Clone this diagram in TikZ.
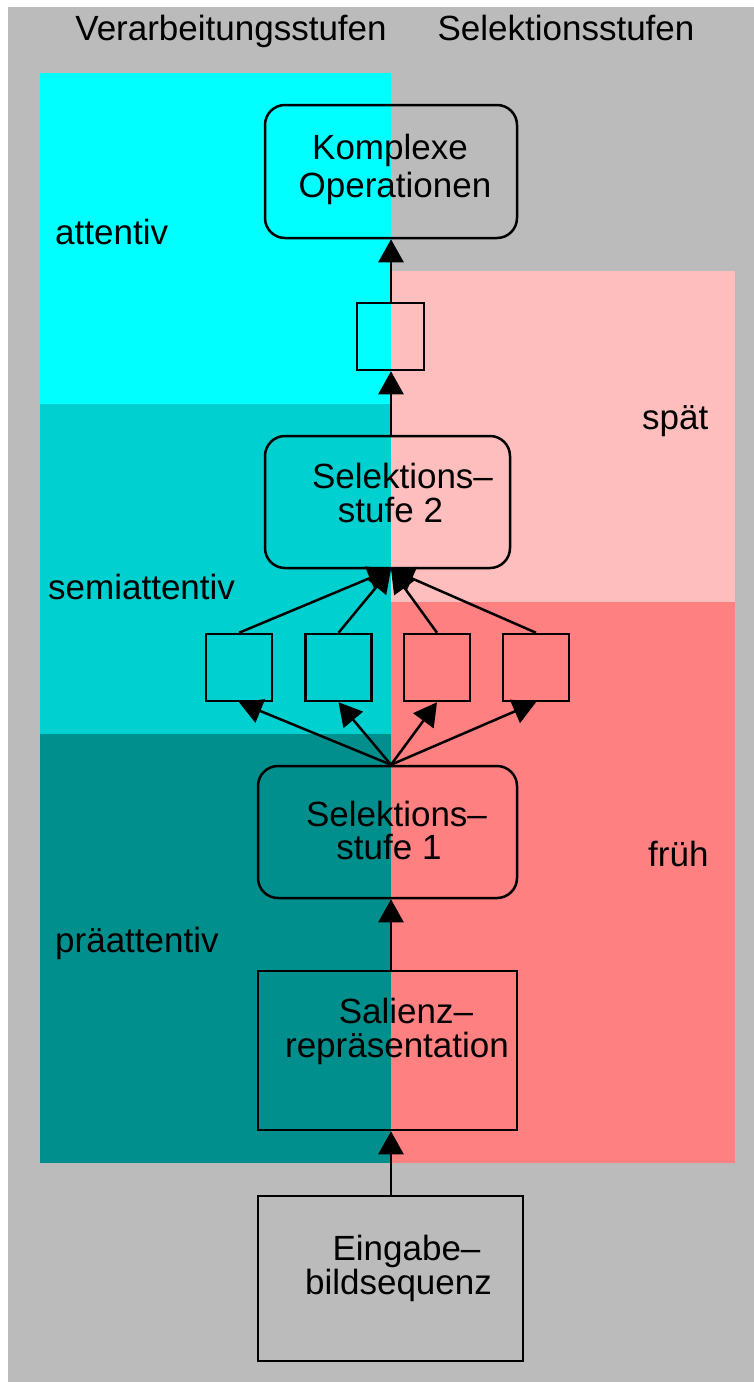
\documentclass[tikz,border=0pt]{standalone}
\usepackage{fontspec}
\setmainfont{Liberation Sans}
\usetikzlibrary{arrows.meta}
\definecolor{bg}{RGB}{187,187,187}
\definecolor{attcol}{RGB}{0,255,255}
\definecolor{semicol}{RGB}{0,208,208}
\definecolor{precol}{RGB}{0,143,140}
\definecolor{latecol}{RGB}{255,190,190}
\definecolor{earlycol}{RGB}{255,128,128}
\begin{document}
\begin{tikzpicture}[x=1pt,y=-1pt,
  txt/.style={font=\fontsize{35}{38}\selectfont, inner sep=0pt, anchor=base,
              text height=25pt, text depth=3pt},
  lbl/.style={txt, anchor=base west},
  box/.style={draw, line width=2.5pt, inner sep=0pt},
  rbox/.style={box, rounded corners=20pt},
  sq/.style={box, minimum width=66pt, minimum height=67pt},
  arr/.style={line width=2.5pt, -{Triangle[length=23pt,width=25pt]}},
  ]
% page and background
\fill[white] (0,0) rectangle (754,1382);
\fill[bg] (8,7) rectangle (754,1382);
% processing stages (left) and selection stages (right)
\fill[attcol]   (40,73)   rectangle (391,404);
\fill[semicol]  (40,404)  rectangle (391,734);
\fill[precol]   (40,734)  rectangle (391,1163);
\fill[latecol]  (391,271) rectangle (735,602);
\fill[earlycol] (391,602) rectangle (735,1163);

\coordinate (axis) at (391,0);

% headings and region labels
\node[txt] (h1) at (231,40) {Verarbeitungsstufen};
\node[txt] (h2) at (566,40) {Selektionsstufen};
\node[lbl] (l1) at (55,244) {attentiv};
\node[lbl] (l2) at (48,599) {semiattentiv};
\node[lbl] (l3) at (55,952) {präattentiv};
\node[lbl] (r1) at (642,429) {spät};
\node[lbl] (r2) at (648,866) {früh};

% boxes
\node[rbox, minimum width=252pt, minimum height=133pt] (komplex) at (391,171.5) {};
\node[sq, minimum width=67pt] (top) at (390.5,336.5) {};
\node[rbox, minimum width=245pt, minimum height=132pt] (sel2) at (387.5,502) {};
\node[sq] (q1) at (239,667.5) {};
\node[sq] (q2) at (338.5,667.5) {};
\node[sq] (q3) at (437,667.5) {};
\node[sq] (q4) at (536,667.5) {};
\node[rbox, minimum width=259pt, minimum height=132pt] (sel1) at (387.5,832) {};
\node[box, minimum width=259pt, minimum height=159pt] (sal) at (387.5,1050.5) {};
\node[box, minimum width=265pt, minimum height=165pt] (ein) at (390.5,1278.5) {};

% box texts
\node[txt] (k1) at (390,159) {Komplexe};
\node[txt] (k2) at (395,197) {Operationen};
\node[txt] (s2a) at (402.5,488) {Selektions–};
\node[txt] (s2b) at (390.5,522) {stufe 2};
\node[txt] (s1a) at (396.5,826) {Selektions–};
\node[txt] (s1b) at (389,859) {stufe 1};
\node[txt] (sa1) at (406,1023.5) {Salienz–};
\node[txt] (sa2) at (397,1057.5) {repräsentation};
\node[txt] (e1) at (406.5,1260.5) {Eingabe–};
\node[txt] (e2) at (398.5,1294.5) {bildsequenz};

% connectors
\draw[arr] (ein.north -| axis) -- (sal.south -| axis);
\draw[arr] (sal.north -| axis) -- (sel1.south -| axis);
\foreach \q in {q1,q2,q3,q4}{
  \draw[arr] (sel1.north -| axis) -- (\q.south);
  \draw[arr] (\q.north) -- (sel2.south -| axis);
}
\draw[arr] (sel2.north -| axis) -- (top.south -| axis);
\draw[arr] (top.north -| axis) -- (komplex.south -| axis);
\end{tikzpicture}
\end{document}
